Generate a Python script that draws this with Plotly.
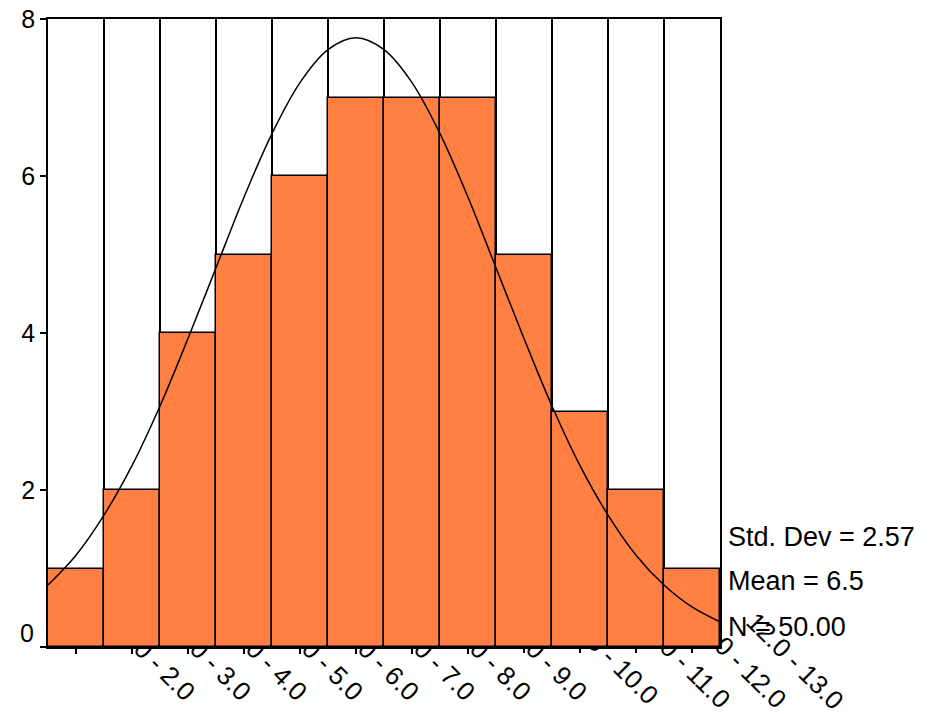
import plotly.graph_objects as go

# ---- data ----
BIN_LOWER = [1.0, 2.0, 3.0, 4.0, 5.0, 6.0, 7.0, 8.0, 9.0, 10.0, 11.0, 12.0]
BIN_WIDTH = 1.0
COUNTS = [1, 2, 4, 5, 6, 7, 7, 7, 5, 3, 2, 1]
TICK_LABELS = ["1.0 - 2.0", "2.0 - 3.0", "3.0 - 4.0", "4.0 - 5.0", "5.0 - 6.0",
               "6.0 - 7.0", "7.0 - 8.0", "8.0 - 9.0", "9.0 - 10.0", "10.0 - 11.0",
               "11.0 - 12.0", "12.0 - 13.0"]
CURVE_X = [1.0, 1.5, 2.0, 2.5, 3.0, 3.5, 4.0, 4.5, 5.0, 5.5, 6.0, 6.5, 7.0,
           7.5, 8.0, 8.5, 9.0, 9.5, 10.0, 10.5, 11.0, 11.5, 12.0, 12.5, 13.0]
CURVE_Y = [0.79, 1.17, 1.68, 2.31, 3.07, 3.93, 4.83, 5.73, 6.54, 7.19, 7.61, 7.76, 7.61,
           7.19, 6.54, 5.73, 4.83, 3.93, 3.07, 2.31, 1.68, 1.17, 0.79, 0.51, 0.32]
Y_TICKS = [0, 2, 4, 6, 8]
STATS_TEXT = ["Std. Dev = 2.57", "Mean = 6.5", "N = 50.00"]

centers = [lo + BIN_WIDTH / 2 for lo in BIN_LOWER]
edges_inner = BIN_LOWER[1:]
x_min = BIN_LOWER[0]
x_max = BIN_LOWER[-1] + BIN_WIDTH

FONT = "Liberation Sans, Arial, sans-serif"

fig = go.Figure()
fig.add_trace(go.Bar(
    x=centers, y=COUNTS, width=BIN_WIDTH,
    marker=dict(color="#FF8042", line=dict(color="black", width=1.5)),
    hoverinfo="skip",
))
fig.add_trace(go.Scatter(
    x=CURVE_X, y=CURVE_Y, mode="lines", line=dict(color="black", width=1.5, shape="spline"),
    hoverinfo="skip",
))

W, H = 932, 714
L, R, T, B = 48, 212, 19, 67
plot_w = W - L - R
plot_h = H - T - B

def py(ypix):
    return (H - B - ypix) / plot_h

for txt, yc in zip(STATS_TEXT, [537, 581, 627]):
    fig.add_annotation(
        text=txt, xref="paper", yref="paper",
        x=(726 - L) / plot_w, y=py(yc), xanchor="left", yanchor="middle",
        showarrow=False, font=dict(family=FONT, size=27, color="black"),
    )

# tick labels grouped by text length (SPSS places longer labels slightly differently)
groups = {}
for c, lab in zip(centers, TICK_LABELS):
    groups.setdefault(len(lab), []).append((c, lab))
lengths = sorted(groups)
# (shift, standoff) per label-length group
placement = {9: (50, -46), 10: (55, -52), 11: (62, -57)}

def xaxis_style(vals, labs, shift, standoff):
    return dict(
        range=[x_min, x_max], tickmode="array", tickvals=vals, ticktext=labs,
        tickangle=45, ticks="outside", ticklen=5, tickwidth=1.5, tickcolor="black",
        tickfont=dict(family=FONT, size=26, color="black"),
        ticklabelshift=shift, ticklabelstandoff=standoff,
        showgrid=False, zeroline=False, automargin=False,
        layer="below traces",
    )

layout_axes = {}
for i, n in enumerate(lengths):
    vals = [g[0] for g in groups[n]]
    labs = [g[1] for g in groups[n]]
    sh, so = placement.get(n, (50, -46))
    ax = xaxis_style(vals, labs, sh, so)
    if i == 0:
        ax.update(showline=True, mirror=True, linecolor="black", linewidth=1.5,
                  minor=dict(tickvals=edges_inner, showgrid=True, gridcolor="black",
                             gridwidth=1.5, ticks=""))
        layout_axes["xaxis"] = ax
    else:
        ax.update(overlaying="x", anchor="y", side="bottom", showline=False)
        layout_axes[f"xaxis{i + 1}"] = ax
        # empty placeholder trace so the overlay axis is rendered
        fig.add_trace(go.Scatter(x=[], y=[], xaxis=f"x{i + 1}", yaxis="y",
                                 hoverinfo="skip", showlegend=False))

# empty placeholder trace for the overlay y axis carrying the "0" label
fig.add_trace(go.Scatter(x=[], y=[], xaxis="x", yaxis="y2", hoverinfo="skip", showlegend=False))

fig.update_layout(
    width=W, height=H,
    margin=dict(l=L, r=R, t=T, b=B),
    paper_bgcolor="white", plot_bgcolor="white",
    showlegend=False, bargap=0,
    yaxis=dict(
        range=[0, 8], tickmode="array", tickvals=Y_TICKS,
        ticktext=["" if v == 0 else str(v) for v in Y_TICKS],
        ticks="outside", ticklen=6, tickwidth=1.5, tickcolor="black",
        tickfont=dict(family=FONT, size=25, color="black"),
        showgrid=False, zeroline=False, automargin=False,
        showline=True, mirror=True, linecolor="black", linewidth=1.5,
    ),
    yaxis2=dict(
        range=[0, 8], tickmode="array", tickvals=[Y_TICKS[0]], ticktext=[str(Y_TICKS[0])],
        overlaying="y", anchor="x", side="left", ticks="",
        tickfont=dict(family=FONT, size=25, color="black"),
        ticklabelshift=-14, ticklabelstandoff=13,
        showgrid=False, zeroline=False, automargin=False, showline=False,
    ),
    **layout_axes,
)

fig.write_html("out.html")
